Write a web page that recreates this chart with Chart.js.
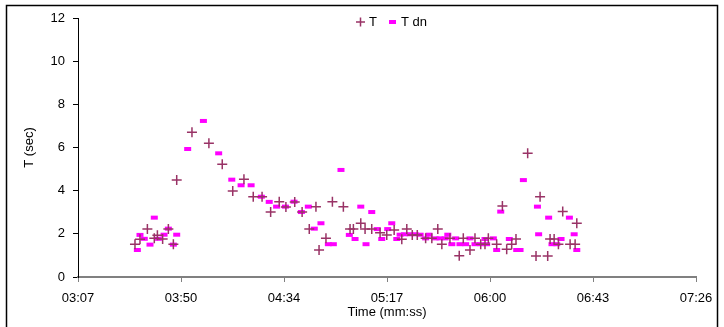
<!DOCTYPE html>
<html>
<head>
<meta charset="utf-8">
<script src="https://cdn.jsdelivr.net/npm/chart.js@4.4.0/dist/chart.umd.min.js"></script>
<style>
  html, body { margin: 0; padding: 0; background: #fff; }
  #wrap { width: 724px; height: 327px; }
</style>
</head>
<body>
<div id="wrap"><canvas id="grafico"></canvas></div>
<script>
// T (seconds of the recording) and values
var tTiempo = [211.1, 213.2, 216.3, 219.2, 220.5, 222.7, 225.1, 227.2, 228.6, 235.0,
    242.1, 247.7, 252.1, 256.8, 260.7, 264.4, 268.0, 271.6, 274.4, 278.1,
    281.2, 284.2, 287.0, 288.3, 291.2, 293.9, 298.5, 301.3, 302.7, 305.8,
    307.6, 310.4, 313.9, 316.7, 319.8, 323.0, 325.1, 327.4, 329.5, 333.0,
    335.6, 338.1, 339.8, 343.2, 347.1, 348.8, 351.6, 353.7, 356.1, 357.9,
    359.3, 362.8, 365.2, 367.0, 369.1, 370.9, 375.8, 379.3, 381.0, 384.2,
    385.2, 386.9, 388.7, 390.5, 393.6, 395.7, 396.4];
var tValor = [1.52, 1.75, 2.22, 1.79, 1.93, 1.76, 2.22, 1.52, 4.49, 6.71,
    6.20, 5.22, 3.99, 4.53, 3.72, 3.72, 3.01, 3.49, 3.24, 3.48,
    3.01, 2.22, 3.26, 1.25, 1.79, 3.49, 3.26, 2.22, 2.22, 2.49,
    2.22, 2.22, 2.05, 1.95, 2.18, 1.75, 2.22, 1.95, 1.95, 1.79,
    1.79, 2.22, 1.52, 1.79, 0.99, 1.79, 1.25, 1.79, 1.52, 1.52,
    1.79, 1.52, 3.29, 1.28, 1.52, 1.76, 5.73, 0.97, 3.72, 0.97,
    1.76, 1.76, 1.52, 3.03, 1.52, 1.52, 2.49];

// T dn
var dnTiempo = [212.1, 213.2, 215.0, 217.4, 219.2, 220.9, 223.3, 225.1, 227.2, 228.6,
    233.2, 239.8, 246.2, 251.7, 255.6, 259.8, 264.1, 267.4, 270.5, 274.2,
    277.8, 280.9, 283.8, 286.3, 289.1, 292.2, 294.3, 297.5, 301.0, 303.4,
    305.8, 308.0, 310.4, 312.7, 314.6, 317.1, 318.8, 320.9, 322.3, 324.1,
    326.5, 328.6, 330.7, 333.0, 334.4, 337.0, 339.0, 341.2, 342.3, 344.0,
    345.6, 347.4, 349.8, 351.6, 353.7, 356.1, 357.9, 358.6, 361.4, 362.8,
    364.5, 368.1, 371.2, 372.6, 374.0, 379.9, 380.4, 384.6, 386.0, 388.0,
    389.8, 393.3, 395.3, 396.4];
var dnValor = [1.25, 1.95, 1.77, 1.50, 2.75, 1.77, 1.96, 2.24, 1.50, 1.96,
    5.93, 7.23, 5.73, 4.51, 4.25, 4.25, 3.72, 3.48, 3.26, 3.26,
    3.49, 3.01, 3.26, 2.24, 2.49, 1.52, 1.52, 4.96, 1.95, 1.76,
    3.26, 1.52, 3.01, 2.22, 1.76, 2.22, 2.49, 1.76, 1.96, 1.98,
    1.98, 1.98, 1.96, 1.79, 1.96, 1.79, 1.79, 1.79, 1.96, 1.52,
    1.79, 1.52, 1.52, 1.79, 1.52, 1.52, 1.76, 1.52, 1.79, 1.25,
    3.03, 1.76, 1.25, 1.25, 4.49, 3.26, 1.98, 2.75, 1.52, 1.52,
    1.76, 2.75, 1.98, 1.25];

// ticks del eje X (segundos) y del eje Y
var ticksX = [187.2, 230.4, 273.6, 316.8, 360, 403.2, 446.4];
var ticksY = [0, 2, 4, 6, 8, 10, 12];

var etiquetas = ['T', 'T dn'];

function puntos(xs, ys) {
    var res = [];
    for (var i = 0; i < xs.length; i++) {
        res.push({ x: xs[i], y: ys[i] });
    }
    return res;
}

function mmss(v) {
    var s = Math.round(v);
    var m = Math.floor(s / 60);
    s = s - m * 60;
    return (m < 10 ? '0' : '') + m + ':' + (s < 10 ? '0' : '') + s;
}

var fuente = '"Liberation Sans", Arial, sans-serif';

// marco y leyenda a mano, como en el original
const marco = {
    id: 'marco',
    beforeDraw(chart) {
        const ctx = chart.ctx;
        ctx.save();
        ctx.fillStyle = '#fff';
        ctx.fillRect(0, 0, chart.width, chart.height);
        ctx.strokeStyle = '#000';
        ctx.lineWidth = 1.5;
        ctx.strokeRect(6.5, 5.5, 711, 400);
        ctx.restore();
    },
    afterDraw(chart) {
        const ctx = chart.ctx;
        ctx.save();
        ctx.font = '13px ' + fuente;
        ctx.textBaseline = 'middle';
        ctx.fillStyle = '#000';
        // T
        ctx.strokeStyle = '#993366';
        ctx.lineWidth = 1.5;
        ctx.beginPath();
        ctx.moveTo(356, 22); ctx.lineTo(365, 22);
        ctx.moveTo(360.5, 17.5); ctx.lineTo(360.5, 26.5);
        ctx.stroke();
        ctx.fillText(chart.data.datasets[0].label, 369, 22);
        // T dn
        ctx.fillStyle = '#ff00ff';
        ctx.fillRect(389, 20, 7, 4);
        ctx.fillStyle = '#000';
        ctx.fillText(chart.data.datasets[1].label, 401, 22);
        ctx.restore();
    }
};

const data = {
    datasets: [{
        label: etiquetas[0],
        data: puntos(tTiempo, tValor),
        pointStyle: 'cross',
        pointRadius: 5,
        pointBorderWidth: 1.5,
        borderColor: '#993366',
        backgroundColor: '#993366',
        showLine: false
    }, {
        label: etiquetas[1],
        data: puntos(dnTiempo, dnValor),
        pointStyle: 'line',
        pointRadius: 3.5,
        pointBorderWidth: 4,
        borderColor: '#ff00ff',
        backgroundColor: '#ff00ff',
        showLine: false
    }]
};

const config = {
    type: 'scatter',
    data: data,
    options: {
        responsive: true,
        maintainAspectRatio: false,
        animation: false,
        layout: { padding: { top: 18, right: 28, left: 0, bottom: 0 } },
        plugins: {
            legend: { display: false },
            tooltip: { enabled: false }
        },
        scales: {
            x: {
                type: 'linear',
                min: ticksX[0],
                max: ticksX[ticksX.length - 1],
                afterBuildTicks: function(scale) {
                    scale.ticks = ticksX.map(function(v) { return { value: v }; });
                },
                afterFit: function(scale) { scale.height = 50; },
                grid: { drawOnChartArea: false, tickLength: 5, color: '#808080', lineWidth: 1 },
                border: { color: '#808080', width: 2 },
                ticks: {
                    color: '#000',
                    padding: 9,
                    maxRotation: 0,
                    autoSkip: false,
                    font: { family: fuente, size: 13 },
                    callback: function(v) { return mmss(v); }
                },
                title: {
                    display: true,
                    text: 'Time (mm:ss)',
                    color: '#000',
                    font: { family: fuente, size: 13 },
                    padding: { top: 0, bottom: 7 }
                }
            },
            y: {
                min: ticksY[0],
                max: ticksY[ticksY.length - 1],
                afterBuildTicks: function(scale) {
                    scale.ticks = ticksY.map(function(v) { return { value: v }; });
                },
                afterFit: function(scale) { scale.width = 78; },
                grid: { drawOnChartArea: false, tickLength: 5, color: '#000', lineWidth: 1 },
                border: { color: '#000', width: 1 },
                ticks: {
                    color: '#000',
                    padding: 8,
                    font: { family: fuente, size: 13 }
                },
                title: {
                    display: true,
                    text: 'T (sec)',
                    color: '#000',
                    font: { family: fuente, size: 13 },
                    padding: { top: 22, bottom: 0 }
                }
            }
        }
    },
    plugins: [marco]
};

const miGrafico = new Chart(document.getElementById('grafico'), config);
</script>
</body>
</html>
